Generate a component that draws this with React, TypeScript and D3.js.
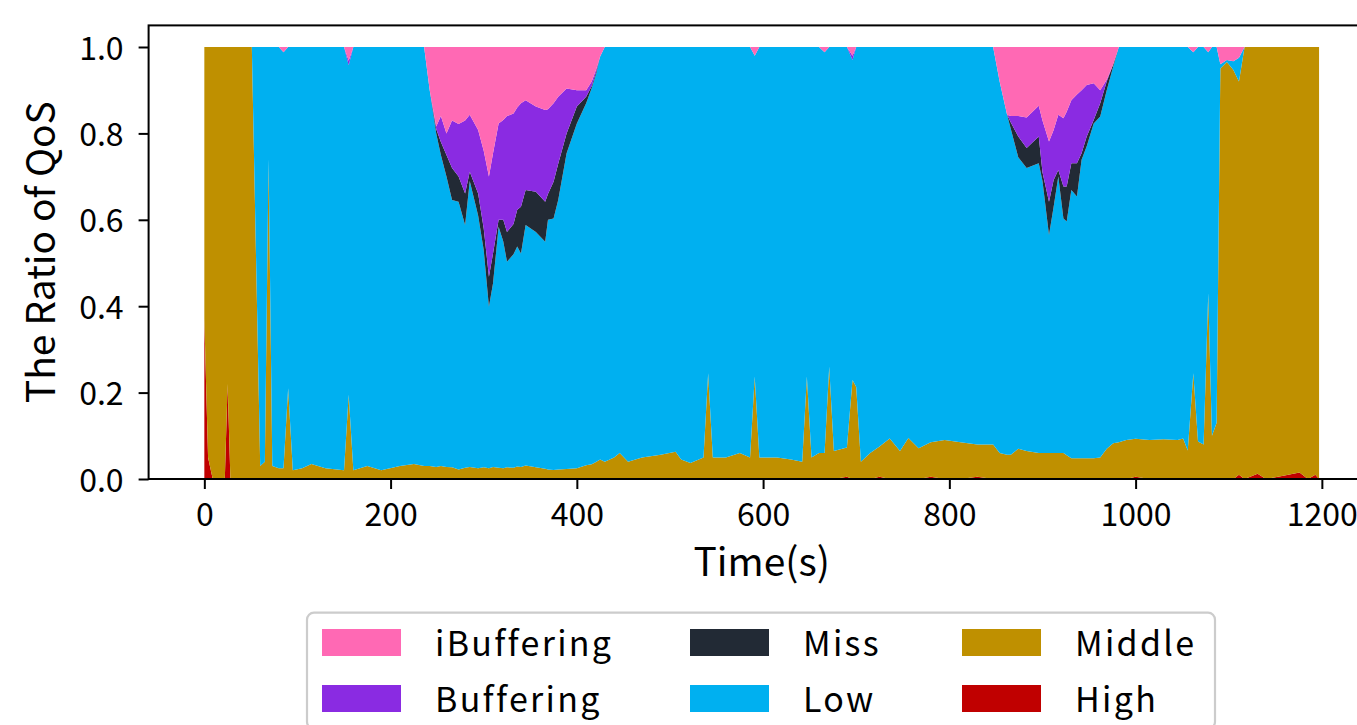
import React, { useEffect, useRef } from "react";
import * as d3 from "d3";

// time in seconds, shared by every series
const times = [
  0, 4, 9, 22, 25, 28, 51, 60, 65, 69, 73, 80, 85, 90, 95, 105, 115, 130, 150, 155, 160, 175, 190, 210, 225, 236,
  242, 249, 254, 260, 266, 273, 280, 285, 294, 300, 305.6, 310, 316, 321, 325, 332, 336, 340, 345, 356, 366, 369, 375, 380, 389, 400, 410, 416, 421, 425, 430,
  440, 446, 455, 470, 490, 506, 512, 522, 536, 541, 546, 560, 575, 586, 591, 596, 615, 630, 642, 647, 652, 660, 666, 671, 676, 690, 696, 700, 705, 715, 725, 736, 747, 756, 767, 780, 795, 812, 830, 847,
  854, 862, 866, 874, 883, 896, 900, 907, 912, 917, 922.5, 926, 931, 937, 942, 947.5, 955, 962, 969, 976, 982,
  990, 1000, 1015, 1030, 1045, 1051, 1056, 1062, 1067, 1073, 1078, 1082, 1087, 1091, 1098, 1105, 1111, 1117, 1131, 1140, 1160, 1176, 1185, 1193, 1197,
];

const high = [
  0.37, 0.05, 0, 0, 0.22, 0, 0, 0, 0, 0, 0, 0, 0, 0, 0, 0, 0, 0, 0, 0, 0, 0, 0, 0, 0, 0,
  0, 0, 0, 0, 0, 0, 0, 0, 0, 0, 0, 0, 0, 0, 0, 0, 0, 0, 0, 0, 0, 0, 0, 0, 0, 0, 0, 0, 0, 0, 0,
  0, 0, 0, 0, 0, 0, 0, 0, 0, 0, 0, 0, 0, 0, 0, 0, 0, 0, 0, 0, 0, 0, 0, 0, 0, 0.005, 0, 0, 0, 0, 0.005, 0, 0, 0, 0, 0.005, 0, 0, 0.005, 0,
  0, 0, 0, 0, 0, 0, 0, 0, 0, 0, 0, 0, 0, 0, 0, 0, 0, 0, 0, 0, 0,
  0, 0.005, 0, 0, 0, 0, 0, 0, 0, 0, 0, 0, 0, 0, 0, 0, 0.01, 0, 0.012, 0, 0.008, 0.015, 0, 0.01, 0,
];

const middle = [
  0.63, 0.95, 1, 1, 0.78, 1, 1, 0.03, 0.04, 0.74, 0.03, 0.025, 0.025, 0.21, 0.02, 0.025, 0.035, 0.025, 0.02, 0.195, 0.02, 0.03, 0.02, 0.03, 0.035, 0.03,
  0.03, 0.028, 0.03, 0.028, 0.027, 0.022, 0.026, 0.028, 0.025, 0.027, 0.025, 0.028, 0.026, 0.025, 0.027, 0.026, 0.029, 0.028, 0.031, 0.027, 0.024, 0.022, 0.021, 0.022, 0.023, 0.025, 0.032, 0.034, 0.04, 0.045, 0.04,
  0.05, 0.06, 0.04, 0.05, 0.056, 0.063, 0.045, 0.037, 0.05, 0.245, 0.05, 0.05, 0.06, 0.05, 0.237, 0.05, 0.05, 0.045, 0.04, 0.237, 0.05, 0.06, 0.06, 0.26, 0.065, 0.068, 0.229, 0.213, 0.04, 0.06, 0.07, 0.094, 0.065, 0.095, 0.071, 0.08, 0.09, 0.085, 0.075, 0.08,
  0.06, 0.056, 0.056, 0.07, 0.065, 0.06, 0.06, 0.06, 0.06, 0.06, 0.06, 0.055, 0.048, 0.048, 0.048, 0.048, 0.048, 0.05, 0.07, 0.083, 0.085,
  0.09, 0.088, 0.09, 0.092, 0.09, 0.094, 0.066, 0.245, 0.087, 0.08, 0.43, 0.1, 0.13, 0.95, 0.965, 0.947, 0.91, 1, 0.988, 1, 0.992, 0.985, 1, 0.99, 1,
];

const low = [
  0, 0, 0, 0, 0, 0, 0, 0.97, 0.96, 0.26, 0.97, 0.975, 0.963, 0.79, 0.98, 0.975, 0.965, 0.975, 0.98, 0.763, 0.98, 0.97, 0.98, 0.97, 0.965, 0.97,
  0.87, 0.772, 0.72, 0.672, 0.619, 0.62, 0.562, 0.662, 0.585, 0.503, 0.374, 0.425, 0.558, 0.525, 0.476, 0.494, 0.509, 0.494, 0.557, 0.545, 0.525, 0.578, 0.582, 0.624, 0.731, 0.798, 0.838, 0.871, 0.9, 0.933, 0.96,
  0.95, 0.94, 0.96, 0.95, 0.944, 0.937, 0.955, 0.963, 0.95, 0.755, 0.95, 0.95, 0.94, 0.95, 0.743, 0.95, 0.95, 0.955, 0.96, 0.763, 0.95, 0.94, 0.928, 0.74, 0.935, 0.927, 0.741, 0.787, 0.96, 0.94, 0.925, 0.906, 0.935, 0.905, 0.929, 0.915, 0.91, 0.915, 0.92, 0.92,
  0.86, 0.787, 0.754, 0.675, 0.655, 0.671, 0.63, 0.505, 0.57, 0.64, 0.543, 0.541, 0.621, 0.606, 0.691, 0.722, 0.775, 0.789, 0.83, 0.872, 0.915,
  0.91, 0.907, 0.91, 0.908, 0.91, 0.906, 0.934, 0.743, 0.913, 0.92, 0.558, 0.9, 0.87, 0.01, 0.005, 0.02, 0.055, 0, 0, 0, 0, 0, 0, 0, 0,
];

const miss = [
  0, 0, 0, 0, 0, 0, 0, 0, 0, 0, 0, 0, 0, 0, 0, 0, 0, 0, 0, 0, 0, 0, 0, 0, 0, 0,
  0, 0.01, 0.03, 0.05, 0.074, 0.058, 0.073, 0.021, 0.051, 0.05, 0.069, 0.069, 0.016, 0.05, 0.069, 0.07, 0.085, 0.108, 0.081, 0.093, 0.093, 0.06, 0.085, 0.084, 0.046, 0.039, 0.015, 0.005, 0.005, 0, 0,
  0, 0, 0, 0, 0, 0, 0, 0, 0, 0, 0, 0, 0, 0, 0, 0, 0, 0, 0, 0, 0, 0, 0, 0, 0, 0, 0, 0, 0, 0, 0, 0, 0, 0, 0, 0, 0, 0, 0, 0,
  0, 0, 0.015, 0.048, 0.046, 0.062, 0.02, 0.077, 0.062, 0.015, 0.074, 0.081, 0.062, 0.077, 0.015, 0.023, 0.008, 0.031, 0.02, 0.005, 0,
  0, 0, 0, 0, 0, 0, 0, 0, 0, 0, 0, 0, 0, 0, 0, 0, 0, 0, 0, 0, 0, 0, 0, 0, 0,
];

const buffering = [
  0, 0, 0, 0, 0, 0, 0, 0, 0, 0, 0, 0, 0, 0, 0, 0, 0, 0, 0, 0.01, 0, 0, 0, 0, 0, 0,
  0, 0.006, 0.06, 0.05, 0.11, 0.122, 0.169, 0.132, 0.147, 0.18, 0.232, 0.232, 0.223, 0.231, 0.268, 0.256, 0.237, 0.24, 0.208, 0.197, 0.212, 0.196, 0.182, 0.155, 0.104, 0.038, 0.015, 0.01, 0.005, 0, 0,
  0, 0, 0, 0, 0, 0, 0, 0, 0, 0, 0, 0, 0, 0, 0, 0, 0, 0, 0, 0, 0, 0, 0, 0, 0, 0, 0.01, 0, 0, 0, 0, 0, 0, 0, 0, 0, 0, 0, 0, 0,
  0, 0, 0.015, 0.047, 0.071, 0.071, 0.12, 0.139, 0.116, 0.128, 0.158, 0.173, 0.146, 0.159, 0.146, 0.119, 0.085, 0.03, 0.004, 0, 0,
  0, 0, 0, 0, 0, 0, 0, 0, 0, 0, 0, 0, 0, 0, 0, 0, 0, 0, 0, 0, 0, 0, 0, 0, 0,
];

const iBuffering = [
  0, 0, 0, 0, 0, 0, 0, 0, 0, 0, 0, 0, 0.012, 0, 0, 0, 0, 0, 0, 0.032, 0, 0, 0, 0, 0, 0,
  0.1, 0.184, 0.16, 0.2, 0.17, 0.178, 0.17, 0.157, 0.192, 0.24, 0.3, 0.246, 0.177, 0.169, 0.16, 0.154, 0.14, 0.13, 0.123, 0.138, 0.146, 0.144, 0.13, 0.115, 0.096, 0.1, 0.1, 0.08, 0.05, 0.022, 0,
  0, 0, 0, 0, 0, 0, 0, 0, 0, 0, 0, 0, 0, 0, 0.02, 0, 0, 0, 0, 0, 0, 0, 0.012, 0, 0, 0, 0.02, 0, 0, 0, 0, 0, 0, 0, 0, 0, 0, 0, 0, 0,
  0.08, 0.157, 0.16, 0.16, 0.163, 0.136, 0.17, 0.219, 0.192, 0.157, 0.165, 0.15, 0.123, 0.11, 0.1, 0.088, 0.084, 0.1, 0.076, 0.04, 0,
  0, 0, 0, 0, 0, 0, 0, 0.012, 0, 0, 0.012, 0, 0, 0.04, 0.03, 0.033, 0.025, 0, 0, 0, 0, 0, 0, 0, 0,
];

// bottom to top
const keys = ["High", "Middle", "Low", "Miss", "Buffering", "iBuffering"];
const colors: Record<string, string> = {
  High: "#c00000",
  Middle: "#bf9000",
  Low: "#00b0f0",
  Miss: "#222a35",
  Buffering: "#8a2be2",
  iBuffering: "#ff69b4",
};
// matplotlib legend, 3 columns, filled column by column
const legendOrder = ["iBuffering", "Buffering", "Miss", "Low", "Middle", "High"];
const xTicks = [0, 200, 400, 600, 800, 1000, 1200];
const yTicks = [0, 0.2, 0.4, 0.6, 0.8, 1.0];

const FONT = "'Noto Sans CJK JP', 'Noto Sans', sans-serif";

const App = () => {
  const chartRef = useRef<SVGSVGElement>(null);

  useEffect(() => {
    const svg = d3.select(chartRef.current);
    svg.selectAll("*").remove();

    const width = 1357;
    const height = 725;
    const box = { left: 148.6, right: 1374.8, top: 25.4, bottom: 479 };

    svg.attr("width", width).attr("height", height);

    const x = d3
      .scaleLinear()
      .domain([-59.85, 1256.85])
      .range([box.left, box.right]);
    const y = d3.scaleLinear().domain([0, 1.05]).range([box.bottom, box.top]);

    const rows = times.map((t, i) => ({
      t,
      High: high[i],
      Middle: middle[i],
      Low: low[i],
      Miss: miss[i],
      Buffering: buffering[i],
      iBuffering: iBuffering[i],
    }));

    const layers = d3
      .stack<any>()
      .keys(keys)
      .offset(d3.stackOffsetExpand)(rows);

    const area = d3
      .area<any>()
      .x((d) => x(d.data.t))
      .y0((d) => y(d[0]))
      .y1((d) => y(d[1]));

    svg.append("g")
      .selectAll("path")
      .data(layers)
      .join("path")
      .attr("d", area as any)
      .attr("fill", (d) => colors[d.key]);

    // x axis
    const xAxis = svg
      .append("g")
      .attr("transform", `translate(0,${box.bottom})`)
      .call(
        d3
          .axisBottom(x)
          .tickValues(xTicks)
          .tickSize(10)
          .tickPadding(14)
          .tickFormat(d3.format("d"))
      );
    // y axis
    const yAxis = svg
      .append("g")
      .attr("transform", `translate(${box.left},0)`)
      .call(
        d3
          .axisLeft(y)
          .tickValues(yTicks)
          .tickSize(10)
          .tickPadding(15)
          .tickFormat(d3.format(".1f"))
      );
    [xAxis, yAxis].forEach((g) => {
      g.select(".domain").remove();
      g.selectAll("line").attr("stroke", "#000").attr("stroke-width", 2);
      g.selectAll("text")
        .attr("fill", "#000")
        .style("font-family", FONT)
        .style("font-size", "32px");
    });
    yAxis.selectAll("text").attr("dy", "0.38em");

    // spines
    svg.append("rect")
      .attr("x", box.left)
      .attr("y", box.top)
      .attr("width", box.right - box.left)
      .attr("height", box.bottom - box.top)
      .attr("fill", "none")
      .attr("stroke", "#000")
      .attr("stroke-width", 2);

    // axis titles
    svg.append("text")
      .attr("x", (box.left + box.right) / 2)
      .attr("y", 576)
      .attr("text-anchor", "middle")
      .style("font-family", FONT)
      .style("font-size", "39px")
      .text("Time(s)");
    svg.append("text")
      .attr("transform", `translate(55,${(box.top + box.bottom) / 2}) rotate(-90)`)
      .attr("text-anchor", "middle")
      .style("font-family", FONT)
      .style("font-size", "39px")
      .text("The Ratio of QoS");

    // legend
    const legend = svg.append("g");
    legend
      .append("rect")
      .attr("x", 307)
      .attr("y", 612.7)
      .attr("width", 908)
      .attr("height", 116)
      .attr("rx", 7)
      .attr("fill", "#fff")
      .attr("fill-opacity", 0.8)
      .attr("stroke", "#cccccc")
      .attr("stroke-width", 2.2);
    const colX = [322, 690, 962];
    const rowY = [629, 685];
    legendOrder.forEach((name, i) => {
      const cx = colX[Math.floor(i / 2)];
      const ry = rowY[i % 2];
      legend
        .append("rect")
        .attr("x", cx)
        .attr("y", ry)
        .attr("width", 79)
        .attr("height", 27)
        .attr("fill", colors[name]);
      legend
        .append("text")
        .attr("x", cx + 113)
        .attr("y", ry + 26.5)
        .style("font-family", FONT)
        .style("font-size", "34px")
        .style("letter-spacing", "2.3px")
        .text(name);
    });
  }, []);

  return (
    <svg
      ref={chartRef}
      style={{ position: "absolute", left: 0, top: 0, background: "#fff" }}
    ></svg>
  );
};

export default App;
